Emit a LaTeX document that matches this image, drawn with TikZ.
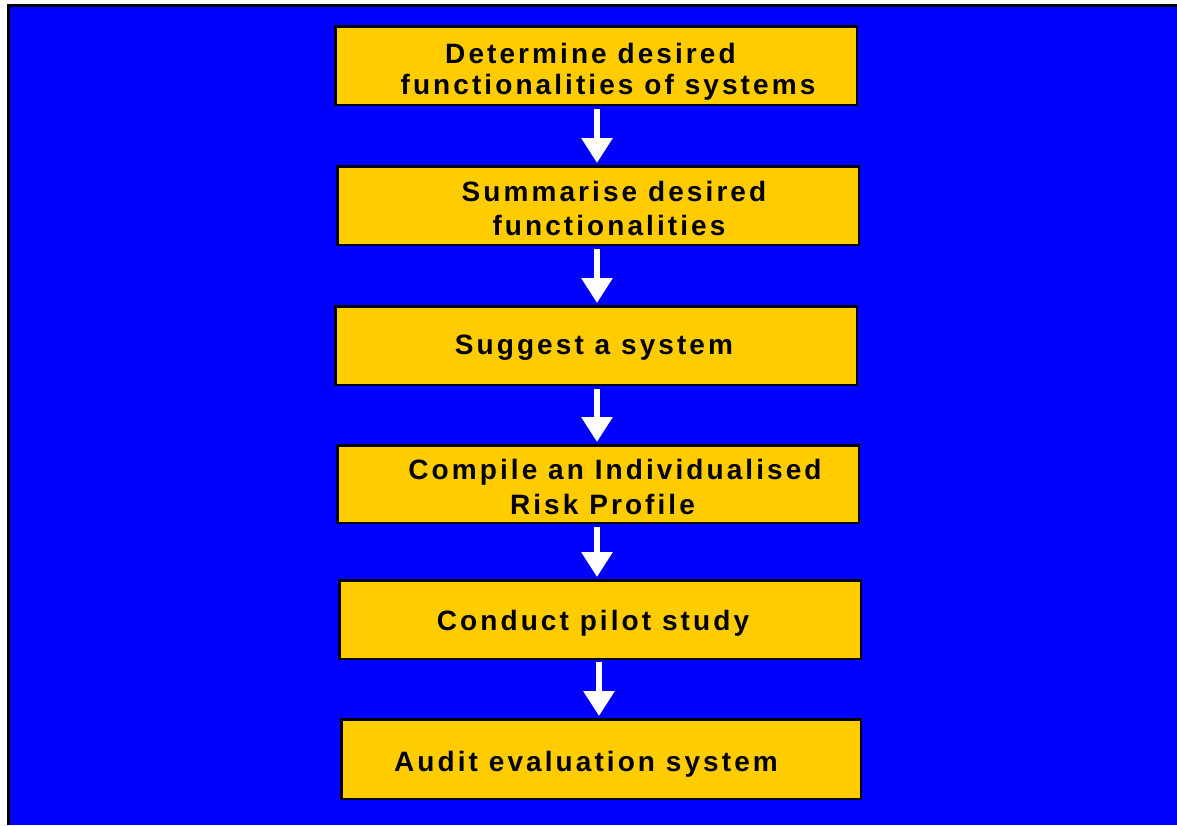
\documentclass[tikz,border=0pt]{standalone}
\usepackage{fontspec}
\newfontfamily\boxfont[LetterSpace=11]{Liberation Sans}
\usetikzlibrary{arrows.meta}
\definecolor{panelblue}{RGB}{0,0,255}
\definecolor{stepyellow}{RGB}{255,204,0}
\tikzset{
  stepbox/.style={draw=black, line width=2.5pt, fill=stepyellow, inner sep=0pt,
    minimum width=521.5pt, minimum height=78.5pt},
  steptext/.style={anchor=base, inner sep=0pt, text=black,
    font=\boxfont\bfseries\fontsize{28}{32}\selectfont},
  flow/.style={draw=white, line width=6pt,
    -{Triangle[width=30pt,length=25pt]}, white},
}
\begin{document}
\begin{tikzpicture}[x=1pt, y=-1pt]
  % page with its framed blue panel
  \fill[white] (0,0) rectangle (1177,825);
  \fill[black] (7,4) rectangle (1177,825);
  \fill[panelblue] (9.5,6.5) rectangle (1177,825);
  \useasboundingbox (0,0) rectangle (1177,825);

  % process steps
  \node[stepbox] (b1) at (596,65.5) {};
  \node[stepbox] (b2) at (598,205.5) {};
  \node[stepbox] (b3) at (596,345.5) {};
  \node[stepbox, minimum height=77.5pt] (b4) at (598,484) {};
  \node[stepbox] (b5) at (600,619.5) {};
  \node[stepbox, minimum width=519.5pt, minimum height=79.5pt] (b6) at (601,759) {};

  % step labels
  \node[steptext] (b1a) at (590.5,63) {Determine desired};
  \node[steptext] (b1b) at (608,94.5) {functionalities of systems};
  \node[steptext] (b2a) at (614,201.7) {Summarise desired};
  \node[steptext] (b2b) at (609,235) {functionalities};
  \node[steptext] (b3a) at (594,354.3) {Suggest a system};
  \node[steptext] (b4a) at (615,479) {Compile an Individualised};
  \node[steptext] (b4b) at (602.5,514) {Risk Profile};
  \node[steptext] (b5a) at (593,630.7) {Conduct pilot study};
  \node[steptext] (b6a) at (586,771.7) {Audit evaluation system};

  % connectors between consecutive steps
  \draw[flow] ([xshift=1pt,yshift=-3pt]b1.south) -- ([xshift=-1pt,yshift=2pt]b2.north);
  \draw[flow] ([xshift=-1pt,yshift=-3pt]b2.south) -- ([xshift=1pt,yshift=2pt]b3.north);
  \draw[flow] ([xshift=1pt,yshift=-3pt]b3.south) -- ([xshift=-1pt,yshift=2pt]b4.north);
  \draw[flow] ([xshift=-1pt,yshift=-3pt]b4.south) -- ([xshift=-3pt,yshift=2pt]b5.north);
  \draw[flow] ([xshift=-1pt,yshift=-2pt]b5.south) -- ([xshift=-2pt,yshift=2pt]b6.north);
\end{tikzpicture}
\end{document}
